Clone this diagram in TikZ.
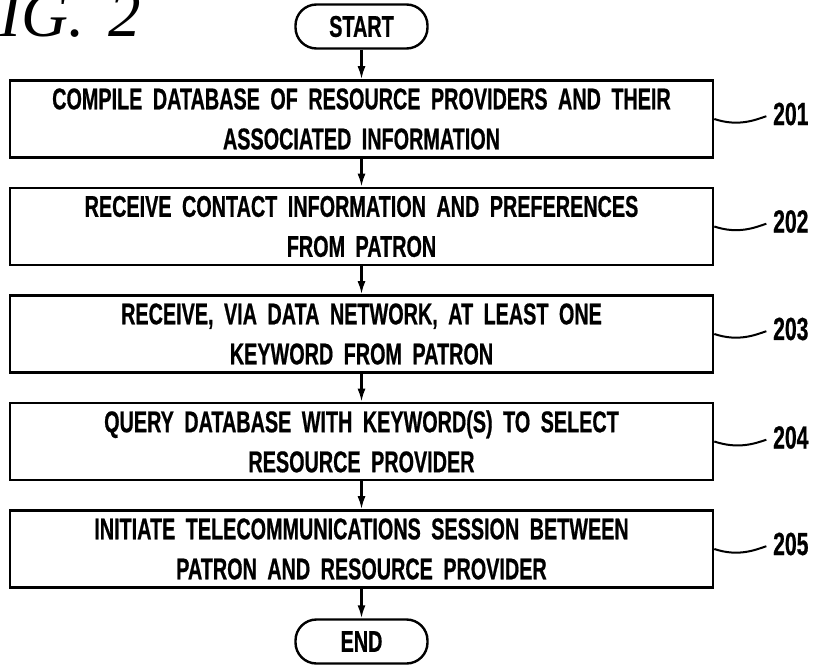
\documentclass[tikz,border=0pt]{standalone}
\usepackage{fontspec}
\setmainfont{Liberation Serif}
\newfontfamily\boxfont[FakeStretch=0.66,WordSpace=1.9,FakeBold=0.6]{Liberation Sans}
\usetikzlibrary{positioning}
\usetikzlibrary{arrows.meta}
\tikzset{
  stepbox/.style={rectangle, draw=black, line width=2.6pt, minimum width=703pt, minimum height=77pt,
    inner sep=0pt, align=center, font=\boxfont\bfseries\fontsize{30}{40}\selectfont},
  termbox/.style={rectangle, rounded corners=21pt, draw=black, line width=2.4pt, minimum width=132pt,
    minimum height=44pt, inner sep=0pt, font=\boxfont\bfseries\fontsize{30}{30}\selectfont},
  flow/.style={line width=2.2pt, -{Latex[length=13pt,width=8pt]}},
  tag/.style={anchor=west, inner sep=0pt, font=\boxfont\bfseries\fontsize{32}{32}\selectfont},
  lead/.style={line width=2pt, shorten >=7pt}
}

\begin{document}
\begin{tikzpicture}
\useasboundingbox (0pt, 0pt) rectangle (816pt, -666pt);
\node (fig) [anchor=base west, inner sep=0pt, font=\itshape\fontsize{65}{65}\selectfont] at (-40.0pt, -37.0pt) {FIG.\hspace{24pt}2};
\node (0) [termbox] at (361.5pt, -26.5pt) {START};
\node (1) [stepbox] at (361.5pt, -119.0pt) {COMPILE DATABASE OF RESOURCE PROVIDERS AND THEIR\\ASSOCIATED INFORMATION};
\node (2) [stepbox] at (361.5pt, -226.5pt) {RECEIVE CONTACT INFORMATION AND PREFERENCES\\FROM PATRON};
\node (3) [stepbox] at (361.5pt, -334.0pt) {RECEIVE, VIA DATA NETWORK, AT LEAST ONE\\KEYWORD FROM PATRON};
\node (4) [stepbox] at (361.5pt, -441.5pt) {QUERY DATABASE WITH KEYWORD(S) TO SELECT\\RESOURCE PROVIDER};
\node (5) [stepbox] at (361.5pt, -549.0pt) {INITIATE TELECOMMUNICATIONS SESSION BETWEEN\\PATRON AND RESOURCE PROVIDER};
\node (6) [termbox] at (361.5pt, -641.5pt) {END};
\node (201) [tag] at (773.0pt, -114.0pt) {201};
\node (202) [tag] at (773.0pt, -221.5pt) {202};
\node (203) [tag] at (773.0pt, -329.0pt) {203};
\node (204) [tag] at (773.0pt, -437.5pt) {204};
\node (205) [tag] at (773.0pt, -544.0pt) {205};
\draw [flow] (0) to(1);
\draw [flow] (1) to(2);
\draw [flow] (2) to(3);
\draw [flow] (3) to(4);
\draw [flow] (4) to(5);
\draw [flow] (5) to(6);
\draw [lead] (1.east) .. controls +(24pt,-8pt) and +(-18pt,-6pt) .. (201.west);
\draw [lead] (2.east) .. controls +(24pt,-8pt) and +(-18pt,-6pt) .. (202.west);
\draw [lead] (3.east) .. controls +(24pt,-8pt) and +(-18pt,-6pt) .. (203.west);
\draw [lead] (4.east) .. controls +(24pt,-8pt) and +(-18pt,-6pt) .. (204.west);
\draw [lead] (5.east) .. controls +(24pt,-8pt) and +(-18pt,-6pt) .. (205.west);
\end{tikzpicture}
\end{document}
